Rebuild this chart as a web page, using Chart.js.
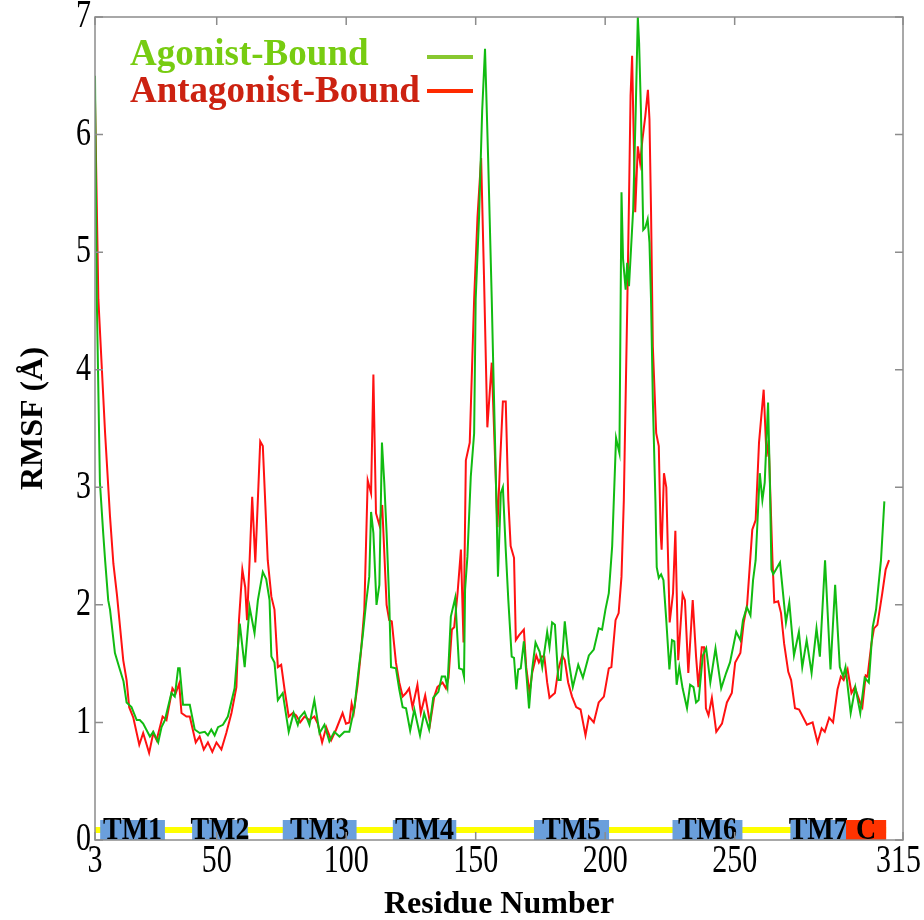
<!DOCTYPE html>
<html>
<head>
<meta charset="utf-8">
<title>RMSF per residue</title>
<script src="https://cdn.jsdelivr.net/npm/chart.js@4.4.0/dist/chart.umd.min.js"></script>
<style>
  html, body { margin: 0; padding: 0; background: #ffffff; }
  #wrap { width: 924px; height: 920px; }
</style>
</head>
<body>
<div id="wrap"><canvas id="rmsfChart" width="924" height="920"></canvas></div>
<script>
// axis ticks
const xTicks = [3, 50, 100, 150, 200, 250, 315];
const yTicks = [0, 1, 2, 3, 4, 5, 6, 7];

// agonist-bound RMSF (Å) per residue
const agonistResidue = [3, 3.7, 4.9, 6.2, 6.9, 8.1, 8.8, 10.7, 12.6, 14, 15.2, 17.1, 19.1, 20.3, 21.6, 24.2, 25.5, 27.4, 28.7, 30, 32.5, 33.8, 35.1, 35.7, 37, 39.6, 41.5, 43.4, 45.4, 46.6, 47.9, 49.2, 50.5, 52.4, 54.3, 56.9, 58.9, 60.8, 62.7, 64.6, 65.9, 67.8, 69.1, 70.4, 71.1, 72.3, 73.6, 75.5, 77.8, 79.7, 81.3, 82, 83.9, 85.8, 87.7, 89.7, 91.6, 93.5, 95.4, 97.4, 99.3, 101.2, 103.2, 104.8, 106.4, 107.7, 108.9, 109.6, 110.5, 111.7, 112.8, 113.8, 114.7, 115.6, 116.6, 117.3, 119.2, 120.5, 121.8, 123.1, 124.7, 126.3, 128.5, 130.1, 132, 133.6, 135.6, 136.9, 138.2, 139.1, 140.4, 142.1, 143.6, 144.9, 145.5, 145.9, 146.8, 148.1, 149.4, 150, 151.3, 152.5, 153.6, 154.8, 156.2, 156.7, 157.7, 158.6, 159.7, 160.5, 161.6, 162.6, 163.9, 164.8, 165.7, 166.4, 167.4, 168.6, 170.6, 171.8, 173.1, 174.7, 175.7, 177.6, 178.5, 179.5, 180.6, 181.9, 182.8, 184.4, 186, 187.5, 189.6, 191.4, 193.7, 195.6, 197.5, 198.8, 200.1, 201.4, 202.7, 204.2, 205.5, 206.3, 206.9, 207.9, 208.5, 209.2, 210.8, 211.8, 212.6, 213.1, 213.8, 214.7, 215.5, 216.4, 217.1, 217.7, 218.4, 219.4, 219.9, 220.7, 221.6, 222.5, 223.5, 224.8, 225.8, 226.7, 227.6, 228.6, 229.9, 231.6, 232.8, 234.1, 235.1, 236.1, 237.7, 239, 240.6, 242.6, 244.8, 246.7, 248.2, 250.6, 252.2, 253.2, 254.7, 256.1, 257.1, 258.1, 259.7, 260.7, 261.6, 262.9, 263.6, 264.2, 264.9, 267.5, 269.8, 271.1, 272.9, 274.8, 276.1, 277.8, 279.7, 281.6, 282.9, 284.9, 287, 288.8, 290.6, 291.9, 292.8, 294.8, 296.6, 298.5, 300.2, 301.8, 303.3, 304.6, 306.5, 307.8];
const agonistRmsf = [6.5, 4.6, 3.04, 2.6, 2.38, 2.04, 1.96, 1.59, 1.45, 1.35, 1.17, 1.13, 1.02, 1.02, 0.99, 0.88, 0.92, 0.83, 0.96, 1.02, 1.25, 1.22, 1.46, 1.46, 1.15, 1.15, 0.94, 0.91, 0.92, 0.89, 0.94, 0.89, 0.96, 0.98, 1.05, 1.29, 1.84, 1.47, 1.98, 1.76, 2.04, 2.28, 2.22, 2.04, 1.56, 1.51, 1.19, 1.25, 0.92, 1.08, 0.98, 1.04, 1.09, 0.98, 1.19, 0.91, 0.98, 0.84, 0.92, 0.88, 0.92, 0.92, 1.13, 1.45, 1.74, 2.02, 2.24, 2.79, 2.61, 2.0, 2.17, 3.38, 3.04, 2.61, 2.04, 1.47, 1.46, 1.28, 1.13, 1.12, 0.93, 1.11, 0.89, 1.08, 0.94, 1.21, 1.26, 1.39, 1.39, 1.3, 1.9, 2.06, 1.46, 1.45, 1.39, 2.13, 2.41, 3.09, 3.46, 4.6, 5.3, 6.2, 6.73, 5.8, 4.6, 4.11, 3.17, 2.24, 2.95, 3.0, 2.47, 2.04, 1.56, 1.55, 1.28, 1.45, 1.46, 1.69, 1.12, 1.45, 1.68, 1.6, 1.47, 1.77, 1.64, 1.85, 1.83, 1.36, 1.36, 1.86, 1.51, 1.3, 1.49, 1.38, 1.57, 1.62, 1.8, 1.79, 1.96, 2.1, 2.5, 3.42, 3.29, 5.51, 4.94, 4.68, 4.91, 4.71, 5.36, 6.21, 7.0, 6.78, 6.21, 5.19, 5.21, 5.28, 5.08, 4.6, 3.74, 2.89, 2.32, 2.23, 2.26, 2.21, 1.9, 1.45, 1.7, 1.69, 1.32, 1.47, 1.29, 1.12, 1.32, 1.3, 1.17, 1.19, 1.57, 1.63, 1.34, 1.63, 1.29, 1.42, 1.51, 1.77, 1.7, 1.87, 1.98, 1.91, 2.21, 2.38, 3.12, 2.89, 3.04, 3.72, 3.04, 2.3, 2.26, 2.36, 1.85, 2.02, 1.57, 1.77, 1.47, 1.7, 1.42, 1.8, 1.56, 2.38, 1.45, 2.17, 1.47, 1.39, 1.47, 1.08, 1.3, 1.08, 1.38, 1.34, 1.81, 1.96, 2.38, 2.88];

// antagonist-bound RMSF (Å) per residue
const antagonistResidue = [3, 4.3, 5.6, 6.9, 8.8, 10.1, 11.5, 13.9, 15.2, 16.2, 17.8, 20.1, 21.6, 23.9, 25.5, 26.8, 29.1, 30.6, 32.9, 34.2, 35.5, 36.4, 38.3, 39.6, 41.9, 43.4, 45, 46.6, 48.3, 49.9, 51.8, 53.7, 55.7, 57.6, 58.6, 59.9, 61, 61.7, 62.7, 63.7, 64.9, 66.8, 67.8, 69.7, 71.1, 72.3, 73.6, 74.9, 76.2, 77.8, 79.4, 80.7, 82.2, 83.9, 85.8, 87.7, 89, 90.7, 92.3, 94.2, 96.1, 98.6, 99.9, 101.2, 102.1, 102.9, 104.4, 105.7, 107, 108.3, 109.6, 110.5, 111.5, 112.8, 113.9, 115.6, 116.6, 117.6, 119.2, 120.5, 121.8, 123.1, 124.3, 125.6, 127.5, 128.8, 130.5, 132.4, 134, 135.2, 137.2, 138.5, 139.5, 140.8, 141.7, 143, 144.3, 145.3, 146.2, 147.7, 149.4, 150.7, 152.1, 153.2, 154.5, 156.2, 158.4, 159.4, 160.5, 161.6, 162.6, 163.5, 164.8, 165.5, 166.7, 168.6, 169.5, 170.8, 171.8, 173.4, 174.4, 175.5, 176.5, 177.6, 178.5, 180.6, 181.9, 183.4, 184.4, 185.7, 187.2, 188.8, 190.5, 192.4, 193.7, 195.6, 197.5, 199.5, 201.4, 202.4, 204, 205.2, 206.3, 207.2, 208.5, 209.2, 209.8, 210.4, 210.8, 211.6, 212.6, 213.5, 214.4, 215.5, 216.5, 217.1, 217.7, 218.4, 219.7, 220.7, 221.4, 221.8, 222.7, 223.6, 224.2, 224.9, 226.2, 227.1, 228.2, 229.9, 230.8, 232.1, 233.8, 235.1, 236, 237.3, 238.2, 238.9, 239.9, 241.2, 242.9, 245.1, 247, 248.9, 250.2, 252.2, 253.5, 254.8, 256.8, 258.1, 259.4, 261.2, 262.3, 263.1, 264.6, 265.3, 266.8, 267.9, 269.1, 270.7, 271.8, 273.3, 274.9, 277.9, 280.1, 282, 283.6, 284.8, 286.5, 288, 289.7, 291, 292.1, 293.6, 295.1, 296.4, 298.4, 299.3, 300.6, 301.3, 302.8, 303.8, 305.1, 307, 308.3, 309.6];
const antagonistRmsf = [6.3, 4.6, 4.03, 3.46, 2.75, 2.35, 2.08, 1.53, 1.36, 1.13, 1.04, 0.81, 0.91, 0.74, 0.91, 0.85, 1.05, 1.02, 1.29, 1.25, 1.33, 1.08, 1.05, 1.05, 0.83, 0.88, 0.77, 0.83, 0.75, 0.83, 0.77, 0.91, 1.08, 1.3, 1.87, 2.3, 2.15, 1.87, 2.38, 2.92, 2.36, 3.39, 3.35, 2.38, 2.07, 1.96, 1.47, 1.49, 1.28, 1.05, 1.08, 1.06, 1.0, 1.05, 1.02, 1.05, 0.99, 0.83, 0.96, 0.85, 0.94, 1.08, 0.99, 1.0, 1.16, 1.08, 1.32, 1.6, 1.96, 3.06, 2.95, 3.96, 2.78, 2.68, 2.85, 2.0, 1.87, 1.86, 1.51, 1.34, 1.22, 1.25, 1.29, 1.13, 1.32, 1.08, 1.23, 0.99, 1.22, 1.3, 1.34, 1.29, 1.38, 1.79, 1.81, 2.1, 2.47, 1.68, 3.23, 3.38, 4.6, 5.3, 5.8, 4.8, 3.51, 4.06, 2.66, 3.2, 3.73, 3.73, 2.89, 2.5, 2.4, 1.7, 1.74, 1.79, 1.47, 1.25, 1.42, 1.57, 1.51, 1.56, 1.56, 1.34, 1.21, 1.25, 1.45, 1.57, 1.53, 1.34, 1.22, 1.13, 1.11, 0.89, 1.05, 1.0, 1.17, 1.22, 1.46, 1.47, 1.87, 1.93, 2.24, 2.89, 4.51, 5.45, 6.33, 6.67, 6.21, 5.34, 5.9, 5.76, 5.96, 6.16, 6.38, 6.13, 5.36, 4.2, 3.46, 3.35, 2.61, 2.47, 3.12, 3.0, 2.47, 1.85, 2.1, 2.63, 1.53, 2.09, 2.04, 1.42, 2.04, 1.56, 1.3, 1.64, 1.64, 1.12, 1.06, 1.21, 0.92, 0.99, 1.17, 1.25, 1.51, 1.59, 1.85, 2.0, 2.64, 2.72, 3.38, 3.83, 3.26, 3.4, 2.38, 2.02, 2.03, 1.93, 1.67, 1.43, 1.36, 1.12, 1.11, 0.98, 1.0, 0.83, 0.95, 0.92, 1.04, 1.0, 1.28, 1.39, 1.36, 1.45, 1.25, 1.3, 1.17, 1.13, 1.4, 1.39, 1.67, 1.8, 1.83, 2.1, 2.3, 2.38];

// secondary structure segments along the sequence
const tmNames = ["TM1", "TM2", "TM3", "TM4", "TM5", "TM6", "TM7", "C"];
const tmStart = [5, 40.5, 75.5, 118, 172.5, 226, 271.5, 293];
const tmEnd = [30, 62, 104, 142.5, 201.5, 253, 293, 308.5];
const loopStart = 3;
const loopEnd = 308.5;

const serif = "'Liberation Serif', 'Times New Roman', serif";

function toPoints(xs, ys) {
  return xs.map((x, i) => ({ x: x, y: ys[i] }));
}

// text drawn taller than its font (narrow-looking digits)
function tallText(ctx, text, x, y, sy) {
  ctx.save();
  ctx.translate(x, y);
  ctx.scale(1, sy);
  ctx.fillText(text, 0, 0);
  ctx.restore();
}

// box around the plot with inward tick marks on every side, plus tick numbers
const frameTicks = {
  id: "frameTicks",
  afterDraw(chart) {
    const { ctx, chartArea: a, scales, width } = chart;
    ctx.save();
    ctx.strokeStyle = "#8c8c8c";
    ctx.lineWidth = 1.5;
    ctx.strokeRect(a.left, a.top, a.right - a.left, a.bottom - a.top);
    ctx.beginPath();
    xTicks.forEach((v) => {
      const px = scales.x.getPixelForValue(v);
      ctx.moveTo(px, a.bottom);
      ctx.lineTo(px, a.bottom - 8);
      ctx.moveTo(px, a.top);
      ctx.lineTo(px, a.top + 8);
    });
    yTicks.forEach((v) => {
      const py = scales.y.getPixelForValue(v);
      ctx.moveTo(a.left, py);
      ctx.lineTo(a.left + 8, py);
      ctx.moveTo(a.right, py);
      ctx.lineTo(a.right - 8, py);
    });
    ctx.stroke();

    ctx.fillStyle = "#000000";
    ctx.font = "30px " + serif;
    ctx.textBaseline = "middle";
    ctx.textAlign = "center";
    scales.x.ticks.forEach((t) => {
      const label = String(t.value);
      const half = ctx.measureText(label).width / 2;
      const px = Math.min(scales.x.getPixelForValue(t.value), width - half - 3);
      tallText(ctx, label, px, a.bottom + 22, 1.3);
    });
    ctx.textAlign = "right";
    scales.y.ticks.forEach((t) => {
      tallText(ctx, String(t.value), a.left - 4, scales.y.getPixelForValue(t.value), 1.3);
    });

    // y axis title, rotated
    ctx.font = "bold 32px " + serif;
    ctx.textAlign = "center";
    ctx.translate(34, (a.top + a.bottom) / 2 - 10);
    ctx.rotate(-Math.PI / 2);
    ctx.fillText("RMSF (Å)", 0, 0);
    ctx.restore();
  },
};

// TM helix strip along the bottom of the plot
const tmStrip = {
  id: "tmStrip",
  beforeDatasetsDraw(chart) {
    const { ctx, scales: { x, y } } = chart;
    const base = y.getPixelForValue(0);
    const top = y.getPixelForValue(0.17);
    const mid = y.getPixelForValue(0.085);
    ctx.save();
    ctx.strokeStyle = "#ffff00";
    ctx.lineWidth = 6;
    ctx.beginPath();
    ctx.moveTo(x.getPixelForValue(loopStart), mid);
    ctx.lineTo(x.getPixelForValue(loopEnd), mid);
    ctx.stroke();
    ctx.font = "bold 28px " + serif;
    ctx.textAlign = "center";
    ctx.textBaseline = "alphabetic";
    tmNames.forEach((name, i) => {
      const l = x.getPixelForValue(tmStart[i]);
      const r = x.getPixelForValue(tmEnd[i]);
      ctx.fillStyle = name === "C" ? "#ff3300" : "#6a9fdc";
      ctx.fillRect(l, top, r - l, base - top);
      ctx.fillStyle = "#000000";
      tallText(ctx, name, (l + r) / 2, base - 1, 1.1);
    });
    ctx.restore();
  },
};

// legend: coloured labels with a short line sample to their right
const sideLegend = {
  id: "sideLegend",
  afterDraw(chart) {
    const { ctx, chartArea: a } = chart;
    const rows = [
      { text: "Agonist-Bound", color: "#77cc11", line: "#88c830", dy: 48, ly: 40 },
      { text: "Antagonist-Bound", color: "#cc2211", line: "#ff2a00", dy: 85, ly: 74 },
    ];
    ctx.save();
    ctx.font = "bold 37px " + serif;
    ctx.textAlign = "left";
    ctx.textBaseline = "alphabetic";
    rows.forEach((row) => {
      ctx.fillStyle = row.color;
      ctx.fillText(row.text, a.left + 35, a.top + row.dy);
      ctx.fillStyle = row.line;
      ctx.fillRect(a.left + 332, a.top + row.ly - 2, 46, 4);
    });
    ctx.restore();
  },
};

document.addEventListener("DOMContentLoaded", () => {
  const ctx = document.getElementById("rmsfChart");

  new Chart(ctx, {
    type: "line",
    data: {
      datasets: [
        {
          label: "Agonist-Bound",
          data: toPoints(agonistResidue, agonistRmsf),
          borderColor: "#11bb11",
          borderWidth: 2,
          pointRadius: 0,
          tension: 0,
          fill: false,
        },
        {
          label: "Antagonist-Bound",
          data: toPoints(antagonistResidue, antagonistRmsf),
          borderColor: "#ff1111",
          borderWidth: 2,
          pointRadius: 0,
          tension: 0,
          fill: false,
        },
      ],
    },
    options: {
      responsive: false,
      animation: false,
      devicePixelRatio: 1,
      layout: { padding: { top: 17, right: 21, left: 0, bottom: 0 } },
      plugins: {
        legend: { display: false },
        tooltip: { enabled: false },
      },
      scales: {
        x: {
          type: "linear",
          min: 3,
          max: 315,
          grid: { display: false },
          border: { display: false },
          afterBuildTicks: (scale) => {
            scale.ticks = xTicks.map((v) => ({ value: v }));
          },
          afterFit: (scale) => {
            scale.height = 80;
            scale.paddingLeft = 0;
            scale.paddingRight = 0;
          },
          ticks: { display: false },
          title: {
            display: true,
            text: "Residue Number",
            color: "#000000",
            font: { family: serif, size: 32, weight: "bold", lineHeight: 0.95 },
            padding: { top: 0, bottom: 0 },
          },
        },
        y: {
          min: 0,
          max: 7,
          grid: { display: false },
          border: { display: false },
          afterBuildTicks: (scale) => {
            scale.ticks = yTicks.map((v) => ({ value: v }));
          },
          afterFit: (scale) => {
            scale.width = 95;
            scale.paddingTop = 0;
            scale.paddingBottom = 0;
          },
          ticks: { display: false },
          title: { display: false },
        },
      },
    },
    plugins: [tmStrip, frameTicks, sideLegend],
  });
});
</script>
</body>
</html>
